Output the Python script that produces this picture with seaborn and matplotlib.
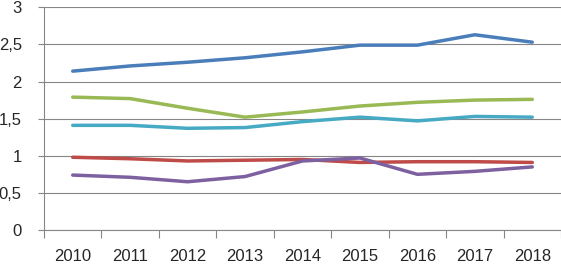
import pandas as pd
import matplotlib
matplotlib.use('Agg')
import matplotlib.pyplot as plt
from matplotlib.ticker import FixedLocator, FuncFormatter
import seaborn as sns

# Values
years = [2010, 2011, 2012, 2013, 2014, 2015, 2016, 2017, 2018]
blue = [2.14, 2.21, 2.26, 2.32, 2.40, 2.49, 2.49, 2.63, 2.53]
green = [1.79, 1.77, 1.64, 1.52, 1.59, 1.67, 1.72, 1.75, 1.76]
cyan = [1.41, 1.41, 1.37, 1.38, 1.46, 1.52, 1.47, 1.53, 1.52]
red = [0.98, 0.96, 0.93, 0.94, 0.95, 0.91, 0.92, 0.92, 0.91]
purple = [0.74, 0.71, 0.65, 0.72, 0.93, 0.97, 0.75, 0.79, 0.85]
y_ticks = [0, 0.5, 1, 1.5, 2, 2.5, 3]

series = {'blue': blue, 'red': red, 'green': green, 'purple': purple, 'cyan': cyan}
colors = {'blue': '#4A7EBB', 'red': '#BE4B48', 'green': '#98B954',
          'purple': '#7D60A0', 'cyan': '#46AAC5'}

df = pd.concat([pd.DataFrame({'year': years, 'value': v, 'series': k})
                for k, v in series.items()], ignore_index=True)

sns.set_style('white')
plt.rcParams['font.family'] = ['Liberation Sans', 'DejaVu Sans']

fig = plt.figure(figsize=(5.61, 2.64), dpi=100)
ax = fig.add_axes([44 / 561, 1 - 230 / 264, 517 / 561, 222.7 / 264])

sns.lineplot(data=df, x='year', y='value', hue='series', palette=colors,
             linewidth=2.5, legend=False, ax=ax)

ax.set_xlim(2009.5, 2018.5)
ax.set_ylim(0, 3)
ax.set_xlabel('')
ax.set_ylabel('')

# category boundaries get tick marks, labels sit in the middle
ax.xaxis.set_major_locator(FixedLocator([y - 0.5 for y in years] + [years[-1] + 0.5]))
ax.xaxis.set_major_formatter(FuncFormatter(lambda v, p: ''))
ax.xaxis.set_minor_locator(FixedLocator(years))
ax.xaxis.set_minor_formatter(FuncFormatter(lambda v, p: str(int(round(v)))))
ax.tick_params(axis='x', which='major', length=6, width=0.8, color='#868686', direction='out', bottom=True)
ax.tick_params(axis='x', which='minor', length=0, pad=14, labelsize=12, bottom=True)

ax.set_yticks(y_ticks)
ax.yaxis.set_major_formatter(FuncFormatter(lambda v, p: ('%g' % v).replace('.', ',')))
ax.tick_params(axis='y', length=4, width=0.8, color='#868686', direction='out', left=True, pad=12, labelsize=12)

ax.grid(axis='y', color='#868686', linewidth=0.8)
ax.set_axisbelow(True)
for side in ['top', 'right']:
    ax.spines[side].set_visible(False)
for side in ['left', 'bottom']:
    ax.spines[side].set_color('#868686')
    ax.spines[side].set_linewidth(0.8)

fig.savefig('out.png', dpi=100)
